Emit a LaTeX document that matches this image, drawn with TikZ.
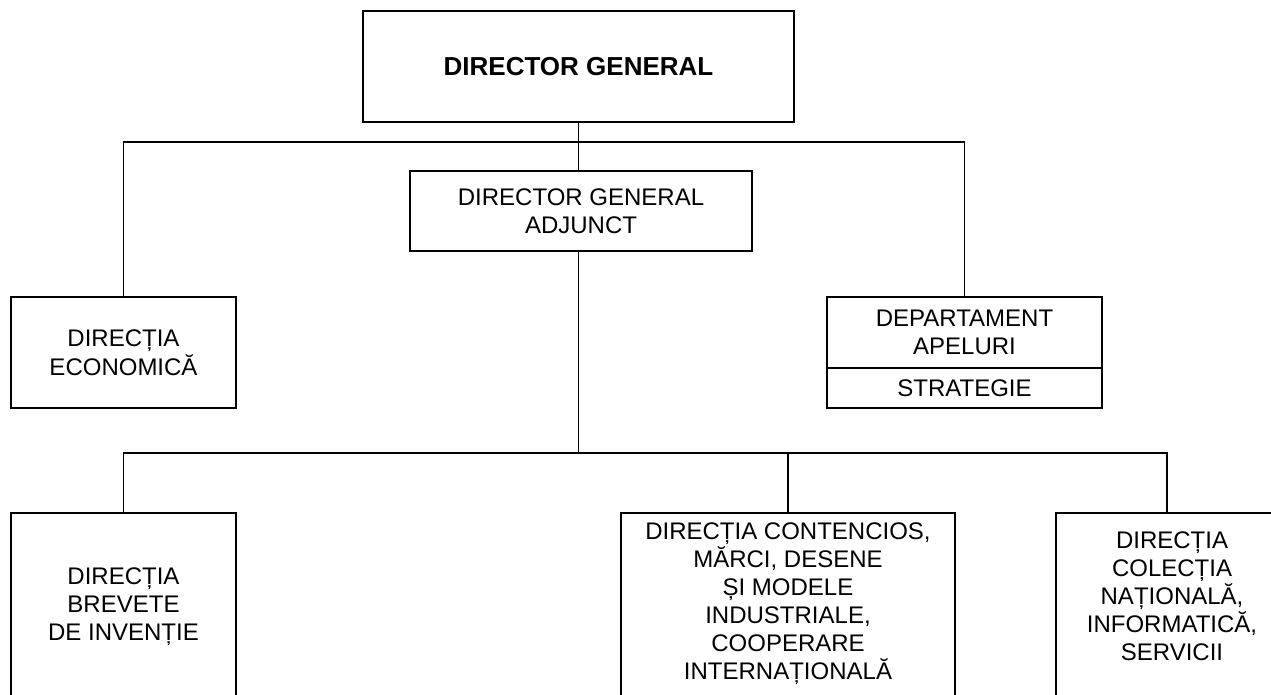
\documentclass[tikz,border=0pt]{standalone}
\usepackage{fontspec}
\setmainfont{Liberation Sans}
\usetikzlibrary{positioning}
\tikzset{
  unit/.style={draw, line width=1.7pt, inner sep=0pt, align=center, font=\fontsize{24}{28.5}\selectfont},
  unittext/.style={inner sep=0pt, align=center, font=\fontsize{24}{28}\selectfont},
  link/.style={line width=1.3pt},
}

\begin{document}
\begin{tikzpicture}[x=1pt, y=-1pt]
  \useasboundingbox (0,0) rectangle (1271,695);
  \clip (0,0) rectangle (1271,695);

  \node[unit, minimum width=431, minimum height=111, font=\fontsize{26}{30}\selectfont\bfseries] (dg)    at ( 578.5,  66.5) {DIRECTOR GENERAL};
  \node[unit, minimum width=342, minimum height=80]                                          (dga)   at ( 581.0, 211.0) {DIRECTOR GENERAL\\ADJUNCT};
  \node[unit, minimum width=225, minimum height=111]                                         (econ)  at ( 123.5, 352.5) {DIRECȚIA\\ECONOMICĂ};
  \node[unit, minimum width=275, minimum height=71]                                          (apel)  at ( 964.5, 332.5) {DEPARTAMENT\\APELURI};
  \node[unit, minimum width=275, minimum height=40, anchor=north, yshift=1.7pt]              (strat) at (apel.south)    {STRATEGIE};

  % bottom row, cut by the lower edge
  \node[unit, minimum width=225, minimum height=200, anchor=north] (brev) at ( 123.5, 512) {};
  \node[unit, minimum width=334, minimum height=200, anchor=north] (cont) at ( 788.0, 512) {};
  \node[unit, minimum width=222, minimum height=200, anchor=north] (nat)  at (1167.0, 512) {};
  \node[unittext, below=56pt of brev.north]            (brevtxt) {DIRECȚIA\\BREVETE\\DE  INVENȚIE};
  \node[unittext, below=11pt of cont.north]            (conttxt) {DIRECȚIA  CONTENCIOS,\\MĂRCI,  DESENE\\ȘI  MODELE\\INDUSTRIALE,\\COOPERARE\\INTERNAȚIONALĂ};
  \node[unittext, below=20pt of nat.north, xshift=5pt] (nattxt)  {DIRECȚIA\\COLECȚIA\\NAȚIONALĂ,\\INFORMATICĂ,\\SERVICII};

  \coordinate (bustop) at (578.5, 142);
  \coordinate (busbot) at (578.5, 453);

  \draw[link] (dg.south) -- (dg.south |- dga.north);
  \draw[link] (econ.north) |- (bustop) -| (apel.north);
  \draw[link] (dg.south |- dga.south) -- (busbot);
  \draw[link] (brev.north) |- (busbot) -| (nat.north);
  \draw[link] (busbot -| cont.north) -- (cont.north);
\end{tikzpicture}
\end{document}
